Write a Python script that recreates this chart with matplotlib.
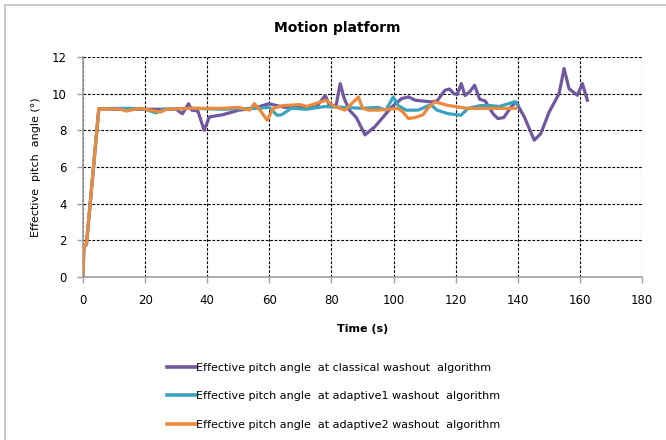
import numpy as np
import matplotlib
matplotlib.use('Agg')
import matplotlib.pyplot as plt
from matplotlib.patches import Rectangle

plt.rcParams['font.family'] = ['DejaVu Sans']

# classical washout algorithm
t_classical = [0, 0.3, 1.1, 5.1, 10, 20, 30, 32, 34, 35, 37, 39, 40.7, 45, 50.2, 55, 59.8,
               65, 70, 75, 78, 79.5, 81.5, 82.8, 84.2, 85.8, 88, 90.8, 94, 99.4, 102.6,
               104.8, 107, 112.2, 114, 116.5, 118, 119.4, 120.5, 121.8, 123, 124.5, 126.1,
               127.7, 129.5, 132, 133.6, 135.5, 137.8, 139.4, 142.1, 145.3, 147.4, 150.1,
               153.3, 154.9, 156.5, 159.2, 160.8, 162.4]
y_classical = [0, 1.75, 1.75, 9.18, 9.15, 9.15, 9.15, 8.9, 9.45, 9.1, 9.05, 8.0, 8.73, 8.85,
               9.1, 9.2, 9.45, 9.25, 9.3, 9.25, 9.9, 9.3, 9.35, 10.55, 9.7, 9.1, 8.7, 7.75,
               8.2, 9.27, 9.73, 9.82, 9.64, 9.55, 9.6, 10.18, 10.25, 10.0, 9.95, 10.55, 9.9,
               10.1, 10.46, 9.7, 9.6, 8.91, 8.64, 8.7, 9.27, 9.55, 8.73, 7.46, 7.82, 9.0,
               10.0, 11.37, 10.27, 9.91, 10.55, 9.64]

# adaptive1 washout algorithm
t_adaptive1 = [0, 0.3, 1.1, 5.1, 15, 20, 23.5, 26, 35, 45, 55, 60, 62.5, 64, 67, 72, 78,
               84, 90, 95, 97.5, 99.9, 101.5, 104, 107.9, 112, 114, 117.5, 121.7, 124,
               128, 131, 134, 138.9, 140]
y_adaptive1 = [0, 1.75, 1.75, 9.18, 9.2, 9.15, 8.95, 9.15, 9.2, 9.15, 9.2, 9.25, 8.82,
               8.85, 9.2, 9.15, 9.3, 9.25, 9.2, 9.25, 9.1, 9.82, 9.35, 9.1, 9.1, 9.4, 9.1,
               8.91, 8.82, 9.2, 9.35, 9.35, 9.3, 9.55, 9.4]

# adaptive2 washout algorithm
t_adaptive2 = [0, 0.3, 1.1, 5.1, 12, 14, 18, 20, 25, 27, 35, 45, 50, 53.6, 55.2, 57,
               59.3, 61.2, 64.4, 70, 72, 78.2, 81, 84.4, 88.7, 90, 92, 95, 101.5, 103,
               104.8, 107, 109.5, 111, 113.3, 115.5, 117.5, 124, 139.4]
y_adaptive2 = [0, 1.75, 1.75, 9.18, 9.15, 9.05, 9.2, 9.15, 9.0, 9.15, 9.2, 9.2, 9.25,
               9.1, 9.45, 9.1, 8.55, 9.19, 9.35, 9.4, 9.3, 9.64, 9.3, 9.1, 9.82, 9.2,
               9.1, 9.1, 9.19, 9.0, 8.64, 8.7, 8.85, 9.2, 9.55, 9.45, 9.36, 9.19, 9.2]

labels = ['Effective pitch angle  at classical washout  algorithm',
          'Effective pitch angle  at adaptive1 washout  algorithm',
          'Effective pitch angle  at adaptive2 washout  algorithm']
colors = ['#7058A0', '#3AA3BD', '#EA8A3C']

fig = plt.figure(figsize=(6.66, 4.4), dpi=100)
fig.patches.append(Rectangle((5 / 666, -0.1), 1.2, (435 + 44) / 440, transform=fig.transFigure,
                             fill=False, edgecolor='#c0c0c0', linewidth=1.2))
ax = fig.add_axes([0.1246, 0.3705, 0.8394, 0.5])

ax.plot(t_classical, y_classical, color=colors[0], lw=2.3, label=labels[0], zorder=3)
ax.plot(t_adaptive1, y_adaptive1, color=colors[1], lw=2.3, label=labels[1], zorder=4)
ax.plot(t_adaptive2, y_adaptive2, color=colors[2], lw=2.3, label=labels[2], zorder=5)

ax.set_xlim(0, 180)
ax.set_ylim(0, 12)
ax.set_xticks(np.arange(0, 181, 20))
ax.set_yticks(np.arange(0, 13, 2))
ax.grid(True, color='black', linestyle=(0, (2.5, 1.5)), linewidth=0.8)
ax.set_axisbelow(True)
for s in ['top', 'right']:
    ax.spines[s].set_visible(False)
for s in ['left', 'bottom']:
    ax.spines[s].set_color('#a0a0a0')
    ax.spines[s].set_linewidth(1.2)
ax.tick_params(colors='#a0a0a0', labelcolor='black', labelsize=8.5, length=4.5, width=1)
ax.tick_params(axis='x', pad=8)
ax.tick_params(axis='y', pad=7)

fig.text(337 / 666, 1 - 28 / 440, 'Motion platform', fontsize=10, fontweight='bold',
         ha='center', va='center')
ax.set_xlabel('Time (s)', fontsize=8, fontweight='bold', labelpad=12)
ax.set_ylabel('Effective  pitch  angle (°)', fontsize=8, labelpad=8)

leg = fig.legend(loc='upper left', bbox_to_anchor=(167 / 666, 1 - 363 / 440), frameon=False,
                 fontsize=8, handlelength=2.6, handletextpad=0.05, labelspacing=1.65,
                 borderpad=0, borderaxespad=0)
for h in leg.get_lines():
    h.set_linewidth(2.6)

fig.savefig('out.png', dpi=100)
